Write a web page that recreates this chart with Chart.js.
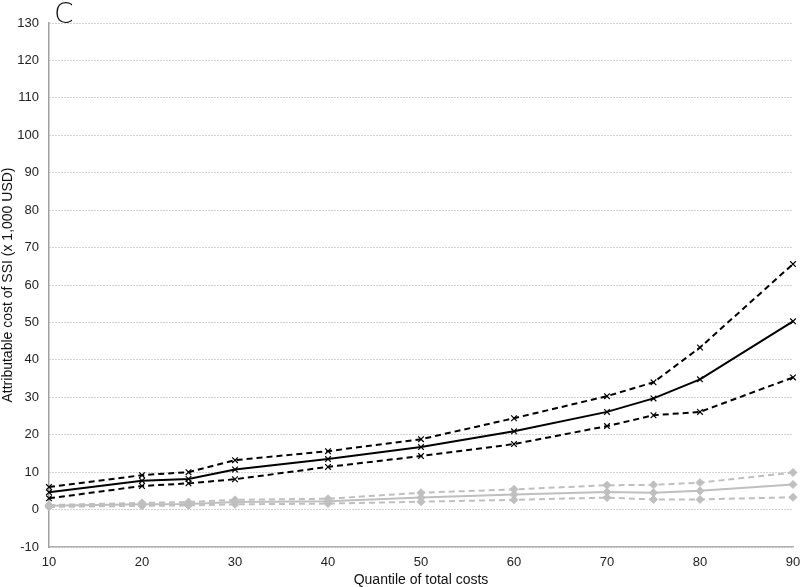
<!DOCTYPE html>
<html>
<head>
<meta charset="utf-8">
<script src="https://cdn.jsdelivr.net/npm/chart.js@4"></script>
<style>
  body { margin: 0; background: #fff; }
  #wrap { position: relative; width: 800px; height: 587px; }
  #panel { position: absolute; left: 54px; top: -3px; font: 28px "DejaVu Sans", sans-serif; font-weight: 200; color: #111; }
</style>
</head>
<body>
<div id="wrap">
  <canvas id="costChart" width="800" height="587"></canvas>
  <div id="panel">C</div>
</div>
<script>
// quantiles of total costs
const quantiles = [10, 20, 25, 30, 40, 50, 60, 70, 75, 80, 90];

// black: attributable cost with 95% bounds
const blackMid = [4.6, 7.7, 8.2, 10.7, 13.5, 16.7, 20.9, 26.1, 29.7, 34.8, 50.3];
const blackUpper = [6.0, 9.2, 10.0, 13.2, 15.6, 18.8, 24.4, 30.3, 34.0, 43.3, 65.6];
const blackLower = [3.0, 6.3, 7.0, 8.1, 11.4, 14.3, 17.5, 22.3, 25.2, 26.1, 35.3];

// grey series with bounds
const greyMid = [1.0, 1.4, 1.5, 2.0, 2.2, 3.2, 4.0, 4.7, 4.5, 5.0, 6.7];
const greyUpper = [1.2, 1.8, 2.0, 2.6, 2.9, 4.5, 5.4, 6.5, 6.6, 7.2, 9.9];
const greyLower = [0.7, 1.0, 1.1, 1.4, 1.6, 2.1, 2.6, 3.2, 2.7, 2.7, 3.3];

function pts(values) {
    return quantiles.map((q, i) => ({ x: q, y: values[i] }));
}

const black = '#000000';
const grey = '#bfbfbf';

function series(label, values, color, dashed, style) {
    return {
        label: label,
        data: pts(values),
        borderColor: color,
        backgroundColor: color,
        borderWidth: 2,
        borderDash: dashed ? [6, 4] : [],
        pointStyle: style,
        pointRadius: 4,
        pointBorderWidth: style === 'crossRot' ? 1.2 : 1,
        pointBorderColor: color,
        pointBackgroundColor: color,
        tension: 0,
        fill: false,
        clip: false
    };
}

const ctx = document.getElementById('costChart');
new Chart(ctx, {
    type: 'line',
    data: {
        datasets: [
            series('Grey upper', greyUpper, grey, true, 'rectRot'),
            series('Grey lower', greyLower, grey, true, 'rectRot'),
            series('Grey', greyMid, grey, false, 'rectRot'),
            series('Upper', blackUpper, black, true, 'crossRot'),
            series('Lower', blackLower, black, true, 'crossRot'),
            series('Attributable cost', blackMid, black, false, 'crossRot')
        ]
    },
    options: {
        responsive: false,
        animation: false,
        layout: { padding: { top: 23, right: 7, left: 0, bottom: 0 } },
        plugins: {
            legend: { display: false },
            tooltip: { enabled: false }
        },
        scales: {
            x: {
                type: 'linear',
                min: 10,
                max: 90,
                afterFit: function(scale) {
                    scale.height = 40;
                    scale.paddingRight = 0;
                },
                ticks: {
                    stepSize: 10,
                    color: '#222',
                    font: { family: 'Liberation Sans', size: 13 },
                    padding: 8
                },
                grid: { display: false, drawTicks: false },
                border: { color: '#b0b0b0', width: 1.5 },
                title: {
                    display: true,
                    text: 'Quantile of total costs',
                    color: '#111',
                    font: { family: 'Liberation Sans', size: 14 },
                    padding: { top: 0, bottom: -2 }
                }
            },
            y: {
                min: -10,
                max: 130,
                afterFit: function(scale) { scale.width = 49; },
                ticks: {
                    stepSize: 10,
                    color: '#222',
                    font: { family: 'Liberation Sans', size: 13 },
                    padding: 10
                },
                grid: {
                    color: '#a4a4a4',
                    lineWidth: 1,
                    drawTicks: false
                },
                border: { color: '#a0a0a0', width: 1.5, dash: [1, 2] },
                title: {
                    display: true,
                    text: 'Attributable cost of SSI (x 1,000 USD)',
                    color: '#111',
                    font: { family: 'Liberation Sans', size: 14 },
                    padding: { top: 0, bottom: 0 }
                }
            }
        }
    }
});
</script>
</body>
</html>
